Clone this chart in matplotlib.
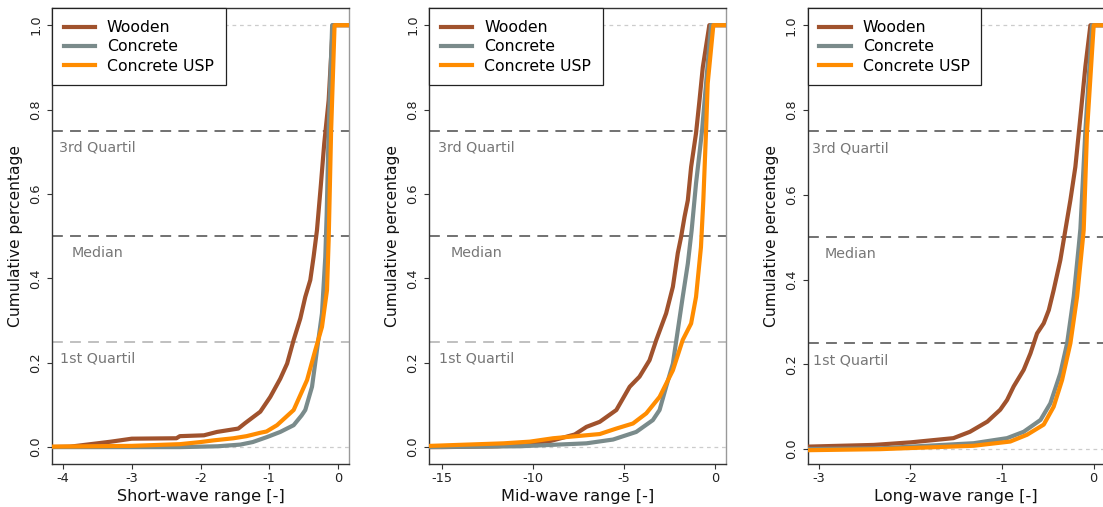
import numpy as np
import matplotlib
matplotlib.use('Agg')
import matplotlib.pyplot as plt

plt.rcParams['font.family'] = ['DejaVu Sans']
plt.rcParams['axes.unicode_minus'] = False

names = ['Wooden', 'Concrete', 'Concrete USP']
colors = ['#A0522D', '#7A8B8B', '#FF8C00']

# short-wave panel
short_wood_x = [-4.3, -3.9, -3.5, -3.3, -3.0, -2.35, -2.3, -1.95, -1.76, -1.45, -1.35, -1.13, -0.985,
                -0.84, -0.74, -0.645, -0.548, -0.476, -0.403, -0.355, -0.306, -0.25, -0.2, -0.136, -0.075, 0.3]
short_wood_y = [0.0, 0.001, 0.009, 0.013, 0.02, 0.021, 0.026, 0.028, 0.036, 0.044, 0.057, 0.084, 0.119,
                0.162, 0.198, 0.254, 0.305, 0.356, 0.396, 0.451, 0.514, 0.62, 0.72, 0.822, 1.0, 1.0]
short_conc_x = [-4.3, -2.3, -1.75, -1.42, -1.24, -1.03, -0.84, -0.645, -0.53, -0.476, -0.378, -0.306,
                -0.233, -0.185, -0.165, -0.136, -0.085, 0.3]
short_conc_y = [0.0, 0.0, 0.002, 0.006, 0.012, 0.024, 0.036, 0.052, 0.075, 0.088, 0.143, 0.23,
                0.317, 0.45, 0.55, 0.75, 1.0, 1.0]
short_usp_x = [-4.3, -3.0, -2.3, -2.0, -1.81, -1.52, -1.33, -1.13, -1.04, -0.887, -0.645, -0.45, -0.33,
               -0.233, -0.16, -0.136, -0.1, -0.05, 0.3]
short_usp_y = [0.001, 0.003, 0.007, 0.012, 0.016, 0.021, 0.026, 0.034, 0.037, 0.052, 0.088, 0.159, 0.23,
               0.285, 0.372, 0.49, 0.75, 1.0, 1.0]

# mid-wave panel
mid_wood_x = [-16.5, -15.0, -12.0, -10.72, -9.0, -7.71, -7.07, -6.34, -5.43, -4.70, -4.16, -3.61, -3.24,
              -2.70, -2.33, -2.06, -1.88, -1.69, -1.51, -1.33, -1.06, -0.87, -0.69, -0.33, 1.0]
mid_wood_y = [0.0, 0.0, 0.002, 0.005, 0.015, 0.03, 0.048, 0.06, 0.088, 0.143, 0.167, 0.206, 0.254,
              0.317, 0.38, 0.46, 0.498, 0.546, 0.585, 0.664, 0.744, 0.822, 0.90, 1.0, 1.0]
mid_conc_x = [-16.5, -10.72, -7.07, -5.61, -4.34, -3.43, -3.06, -2.70, -2.33, -2.06, -1.79, -1.51,
              -1.30, -1.06, -0.73, -0.51, -0.24, 1.0]
mid_conc_y = [0.0, 0.002, 0.009, 0.018, 0.036, 0.064, 0.088, 0.143, 0.198, 0.277, 0.356, 0.435,
              0.514, 0.625, 0.75, 0.862, 1.0, 1.0]
mid_usp_x = [-16.5, -15.6, -11.6, -10.17, -8.9, -6.34, -5.43, -4.52, -3.79, -3.06, -2.33, -1.79, -1.33,
             -1.06, -0.79, -0.66, -0.51, -0.42, -0.11, 1.0]
mid_usp_y = [0.002, 0.003, 0.009, 0.013, 0.021, 0.031, 0.044, 0.056, 0.08, 0.119, 0.182, 0.254, 0.293,
             0.356, 0.474, 0.585, 0.75, 0.862, 1.0, 1.0]

# long-wave panel
long_wood_x = [-3.3, -3.12, -2.4, -2.0, -1.53, -1.35, -1.16, -1.02, -0.945, -0.873, -0.764, -0.69, -0.618,
               -0.545, -0.49, -0.437, -0.364, -0.309, -0.254, -0.2, -0.145, -0.091, -0.036, 0.3]
long_wood_y = [0.006, 0.006, 0.010, 0.016, 0.026, 0.041, 0.065, 0.093, 0.116, 0.148, 0.187, 0.226, 0.273,
               0.297, 0.328, 0.375, 0.446, 0.517, 0.588, 0.666, 0.784, 0.902, 1.0, 1.0]
long_conc_x = [-3.3, -2.33, -1.31, -0.945, -0.764, -0.58, -0.473, -0.364, -0.29, -0.218, -0.164, -0.145,
               -0.091, -0.018, 0.3]
long_conc_y = [0.0, 0.002, 0.014, 0.026, 0.041, 0.069, 0.108, 0.179, 0.25, 0.36, 0.477, 0.52,
               0.75, 1.0, 1.0]
long_usp_x = [-3.3, -2.33, -1.31, -0.91, -0.727, -0.545, -0.437, -0.345, -0.254, -0.181, -0.127, -0.109,
              -0.073, 0.0, 0.3]
long_usp_y = [-0.003, 0.0, 0.008, 0.018, 0.034, 0.058, 0.10, 0.163, 0.25, 0.36, 0.477, 0.517,
              0.75, 1.0, 1.0]

quartiles = [0.25, 0.5, 0.75]
quartile_labels = ['1st Quartil', 'Median', '3rd Quartil']

panels = [
    {'xlabel': 'Short-wave range [-]', 'xlim': (-4.16, 0.16), 'ylim': (-0.04, 1.04),
     'xticks': [-4, -3, -2, -1, 0], 'text_x': -3.5, 'light_q1': True,
     'series': [(short_wood_x, short_wood_y), (short_conc_x, short_conc_y), (short_usp_x, short_usp_y)]},
    {'xlabel': 'Mid-wave range [-]', 'xlim': (-15.69, 0.6), 'ylim': (-0.04, 1.04),
     'xticks': [-15, -10, -5, 0], 'text_x': -13.1, 'light_q1': True,
     'series': [(mid_wood_x, mid_wood_y), (mid_conc_x, mid_conc_y), (mid_usp_x, mid_usp_y)]},
    {'xlabel': 'Long-wave range [-]', 'xlim': (-3.12, 0.12), 'ylim': (-0.035, 1.04),
     'xticks': [-3, -2, -1, 0], 'text_x': -2.65, 'light_q1': False,
     'series': [(long_wood_x, long_wood_y), (long_conc_x, long_conc_y), (long_usp_x, long_usp_y)]},
]

W, H = 1103, 507
fig = plt.figure(figsize=(W / 100, H / 100), dpi=100)
lefts = [52, 429.3, 807.7]
ax_w = 297
ax_bottom = 464
ax_top = 8.3

for left, p in zip(lefts, panels):
    ax = fig.add_axes([left / W, 1 - ax_bottom / H, ax_w / W, (ax_bottom - ax_top) / H])

    # reference lines
    for yv in [0.0, 1.0]:
        ax.axhline(yv, color='#CCCCCC', lw=0.9, dashes=(3, 3), zorder=1)
    for q in quartiles:
        col = '#666666'
        if q == 0.25 and p['light_q1']:
            col = '#BBBBBB'
        ax.axhline(q, color=col, lw=1.3, dashes=(6, 4), zorder=1)

    for (x, y), name, c in zip(p['series'], names, colors):
        ax.plot(x, y, color=c, lw=3, label=name, zorder=3, solid_joinstyle='round')

    for q, lab in zip(quartiles, quartile_labels):
        ax.text(p['text_x'], q - 0.04, lab, color='#777777', fontsize=10.3,
                ha='center', va='center', zorder=2)

    ax.set_xlim(p['xlim'])
    ax.set_ylim(p['ylim'])
    ax.set_xticks(p['xticks'])
    ax.set_xticklabels([str(t) for t in p['xticks']])
    ax.set_yticks([0.0, 0.2, 0.4, 0.6, 0.8, 1.0])
    ax.set_yticklabels(['0.0', '0.2', '0.4', '0.6', '0.8', '1.0'], rotation=90, va='center')

    ax.tick_params(axis='both', direction='out', length=3.6, width=0.8, colors='#333333',
                   labelsize=9.3, labelcolor='#222222')
    ax.tick_params(axis='x', pad=2)
    ax.tick_params(axis='y', pad=3.5)
    for side in ['left', 'bottom', 'top']:
        ax.spines[side].set_color('#333333')
        ax.spines[side].set_linewidth(1.0)
    ax.spines['right'].set_color('#999999')
    ax.spines['right'].set_linewidth(1.0)

    ax.set_xlabel(p['xlabel'], fontsize=11.6, color='#111111', labelpad=3)
    ax.set_ylabel('Cumulative percentage', fontsize=11.2, color='#111111', labelpad=4.5)

    leg = ax.legend(loc='upper left', borderaxespad=0, fontsize=11.3, frameon=True, fancybox=False,
                    framealpha=1, edgecolor='#222222', handlelength=2.0, handletextpad=0.75,
                    borderpad=0.75, labelspacing=0.27)
    leg.get_frame().set_linewidth(0.9)
    leg.set_zorder(5)

fig.savefig('out.png', dpi=100)
